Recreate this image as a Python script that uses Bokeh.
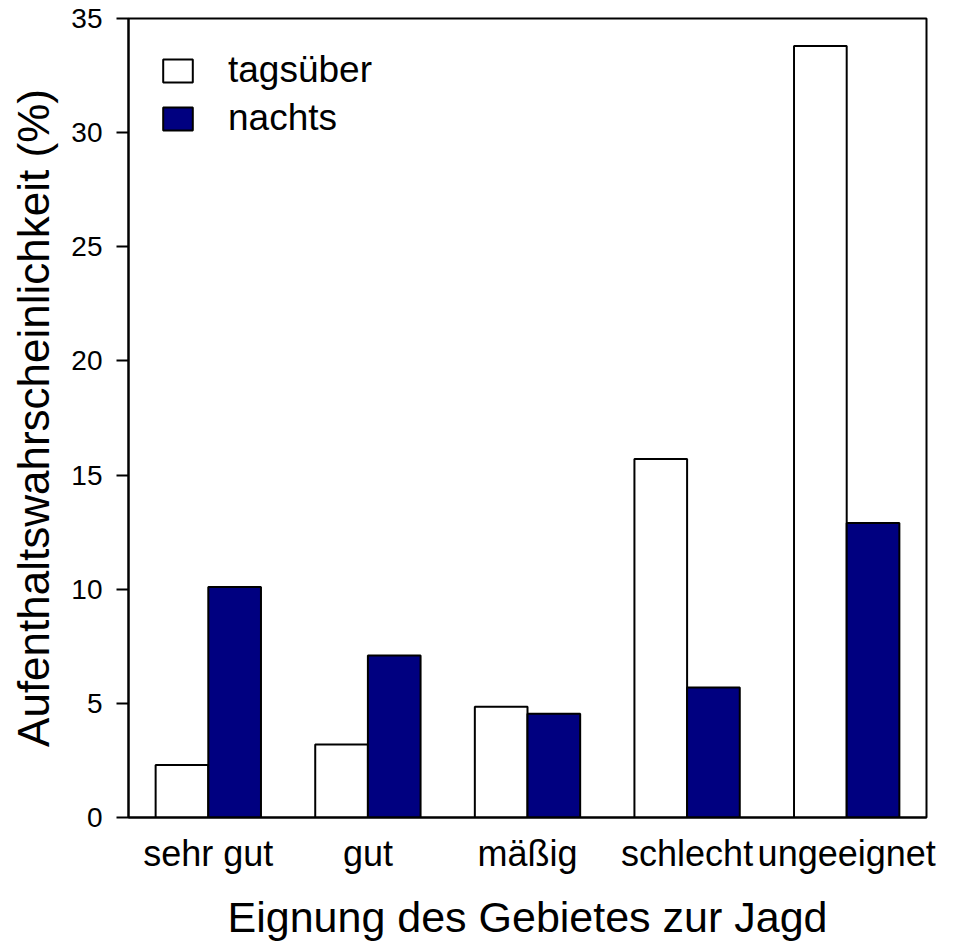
from bokeh.plotting import figure
from bokeh.models import FactorRange, Range1d, Legend, LegendItem, Label, FixedTicker, ColumnDataSource
from bokeh.transform import dodge
from bokeh.embed import file_html
from bokeh.resources import INLINE

categories = ["sehr gut", "gut", "mäßig", "schlecht", "ungeeignet"]
tagsueber = [2.3, 3.2, 4.85, 15.7, 33.8]
nachts = [10.1, 7.1, 4.55, 5.7, 12.9]
series_names = ["tagsüber", "nachts"]
y_ticks = [0, 5, 10, 15, 20, 25, 30, 35]

FONT = "Liberation Sans"

src = ColumnDataSource(dict(cat=categories, tag=tagsueber, nacht=nachts))

p = figure(width=959, height=943, x_range=FactorRange(factors=categories),
           y_range=Range1d(0, 35), output_backend="svg", toolbar_location=None,
           min_border_left=128, min_border_right=33, min_border_top=18, min_border_bottom=126)
p.background_fill_color = "white"
p.border_fill_color = "white"
p.outline_line_color = "black"
p.outline_line_width = 2
p.xgrid.visible = False
p.ygrid.visible = False
p.x_range.range_padding = 0

r1 = p.vbar(x=dodge("cat", -0.165, range=p.x_range), top="tag", width=0.33, source=src,
            fill_color="white", line_color="black", line_width=2)
r2 = p.vbar(x=dodge("cat", 0.165, range=p.x_range), top="nacht", width=0.33, source=src,
            fill_color="#000080", line_color="black", line_width=2)

# y axis
ya = p.yaxis[0]
ya.ticker = FixedTicker(ticks=y_ticks)
ya.minor_tick_line_color = None
ya.major_tick_in = 0
ya.major_tick_out = 12
ya.major_tick_line_width = 2
ya.axis_line_width = 2
ya.major_label_text_font = FONT
ya.major_label_text_font_size = "28px"
ya.major_label_text_color = "black"
ya.major_label_standoff = 14
ya.axis_label = "Aufenthaltswahrscheinlichkeit (%)"
ya.axis_label_text_font = FONT
ya.axis_label_text_font_size = "44px"
ya.axis_label_text_font_style = "normal"
ya.axis_label_text_color = "black"
ya.axis_label_standoff = 10

# x axis
xa = p.xaxis[0]
xa.major_tick_line_color = None
xa.minor_tick_line_color = None
xa.axis_line_width = 2
xa.major_label_text_font = FONT
xa.major_label_text_font_size = "36px"
xa.major_label_text_color = "black"
xa.major_label_standoff = 9
xa.axis_label = "Eignung des Gebietes zur Jagd"
xa.axis_label_text_font = FONT
xa.axis_label_text_font_size = "43px"
xa.axis_label_text_font_style = "normal"
xa.axis_label_text_color = "black"
xa.axis_label_standoff = 16

legend = Legend(items=[LegendItem(label=series_names[0], renderers=[r1]),
                       LegendItem(label=series_names[1], renderers=[r2])],
                location="top_left", margin=31, padding=0, spacing=6,
                glyph_width=37, glyph_height=29, label_standoff=32,
                label_text_font=FONT, label_text_font_size="37px",
                label_text_color="black",
                border_line_color=None, background_fill_alpha=0)
p.add_layout(legend)

cut = Label(x=763, y=-113, x_units="screen", y_units="screen", text="(Gri",
            text_font=FONT, text_font_size="30px", text_baseline="top")
p.add_layout(cut)

open("out.html", "w").write(file_html(p, INLINE))
